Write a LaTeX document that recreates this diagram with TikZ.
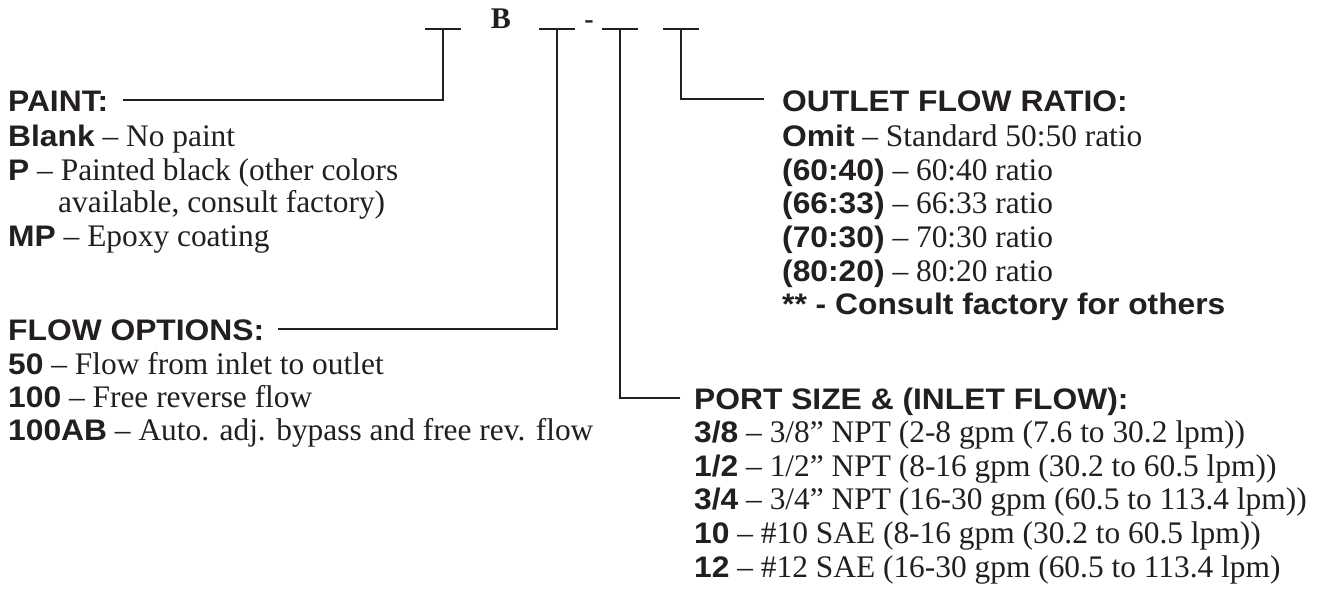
\documentclass[tikz,border=0pt]{standalone}
\usepackage{fontspec}
\setmainfont{Liberation Serif}
\setsansfont{Liberation Sans}[FakeStretch=1.07]
\definecolor{ink}{RGB}{35,31,32}
\newcommand{\bk}[1]{{\sffamily\bfseries\fontsize{29.7}{34}\selectfont #1}}
\tikzset{
  txt/.style={anchor=base west, inner sep=0pt, text=ink, font=\fontsize{31.4}{34}\selectfont},
  hd/.style={anchor=base west, inner sep=0pt, text=ink, font=\sffamily\bfseries\fontsize{29.7}{34}\selectfont},
  ln/.style={draw=ink, line width=2.7pt},
}
\begin{document}
\begin{tikzpicture}[x=1pt,y=-1pt]
\useasboundingbox[fill=white] (0,0) rectangle (1326,616);
% code blanks
\coordinate (u1) at (443,29);
\coordinate (u2) at (557,29);
\coordinate (u3) at (620,29);
\coordinate (u4) at (681,29);
\foreach \u in {u1,u2,u3,u4} \draw[ln] ([xshift=-18pt]\u) -- ([xshift=18pt]\u);
\node[anchor=base, inner sep=0pt, text=ink, font=\bfseries\fontsize{30}{34}\selectfont] (b) at (501,28) {B};
\node[anchor=base, inner sep=0pt, text=ink, font=\bfseries\fontsize{28}{34}\selectfont] (dash) at (589,28) {-};
% left: paint
\node[hd] (ph) at (8,111) {PAINT:};
\node[txt] (p1) at (8,146) {\bk{Blank} – No paint};
\node[txt] (p2) at (8,180) {\bk{P} – Painted black (other colors};
\node[txt] (p3) at (58,212) {available, consult factory)};
\node[txt] (p4) at (8,246) {\bk{MP} – Epoxy coating};
% left: flow options
\node[hd] (fh) at (8,340) {FLOW OPTIONS:};
\node[txt] (f1) at (8,374) {\bk{50} – Flow from inlet to outlet};
\node[txt] (f2) at (8,407) {\bk{100} – Free reverse flow};
\node[txt] (f3) at (8,440) {\bk{100AB} – Auto. adj. bypass and free rev. flow};
% right: outlet flow ratio
\node[hd] (oh) at (782,111) {OUTLET FLOW RATIO:};
\node[txt] (o1) at (782,146) {\bk{Omit} – Standard 50:50 ratio};
\node[txt] (o2) at (782,180) {\bk{(60:40)} – 60:40 ratio};
\node[txt] (o3) at (782,213) {\bk{(66:33)} – 66:33 ratio};
\node[txt] (o4) at (782,247) {\bk{(70:30)} – 70:30 ratio};
\node[txt] (o5) at (782,281) {\bk{(80:20)} – 80:20 ratio};
\node[hd] (o6) at (782,314) {** - Consult factory for others};
% right: port size
\node[hd] (sh) at (694,409) {PORT SIZE \& (INLET FLOW):};
\node[txt] (s1) at (694,442) {\bk{3/8} – 3/8” NPT (2-8 gpm (7.6 to 30.2 lpm))};
\node[txt] (s2) at (694,476) {\bk{1/2} – 1/2” NPT (8-16 gpm (30.2 to 60.5 lpm))};
\node[txt] (s3) at (694,509) {\bk{3/4} – 3/4” NPT (16-30 gpm (60.5 to 113.4 lpm))};
\node[txt] (s4) at (694,543) {\bk{10} – \#10 SAE (8-16 gpm (30.2 to 60.5 lpm))};
\node[txt] (s5) at (694,577) {\bk{12} – \#12 SAE (16-30 gpm (60.5 to 113.4 lpm)};
% connectors
\coordinate (c1) at (123,100);
\coordinate (c2) at (278,329);
\coordinate (c3) at (680,398);
\coordinate (c4) at (764,99);
\draw[ln] (c1) -| (u1);
\draw[ln] (c2) -| (u2);
\draw[ln] (c3) -| (u3);
\draw[ln] (c4) -| (u4);
\end{tikzpicture}
\end{document}
